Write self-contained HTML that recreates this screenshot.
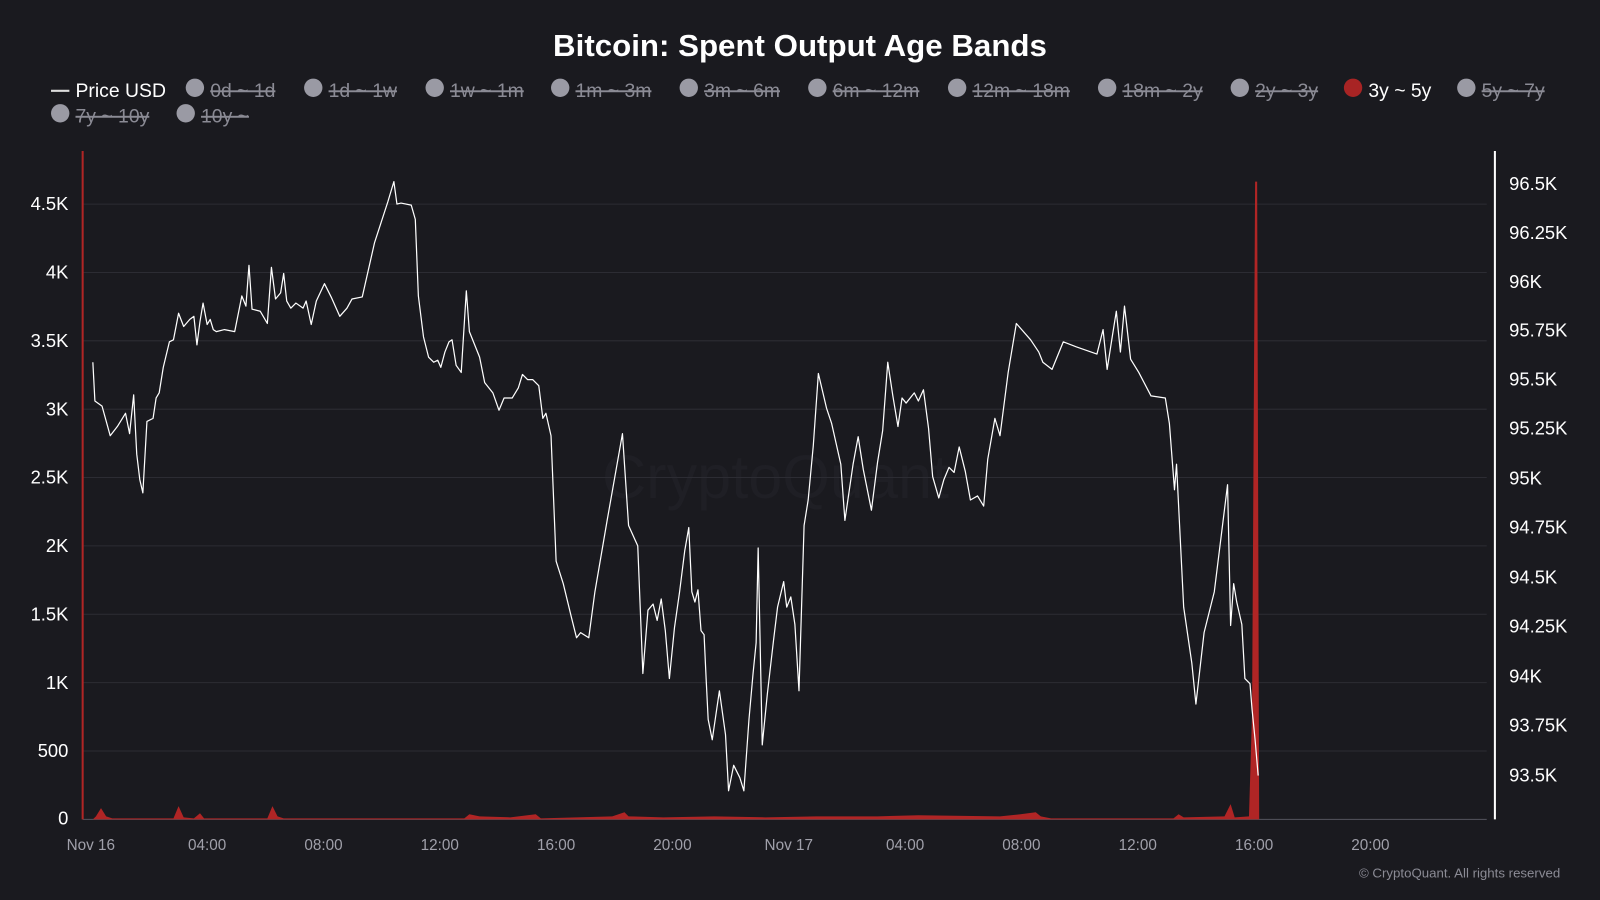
<!DOCTYPE html>
<html><head><meta charset="utf-8"><style>
html,body{margin:0;padding:0;background:#1a1a1f;width:1600px;height:900px;overflow:hidden}
svg{display:block}
text{font-family:"Liberation Sans",sans-serif}
</style></head><body>
<svg width="1600" height="900" viewBox="0 0 1568 882" preserveAspectRatio="none">
<rect width="1568" height="882" fill="#1a1a1f"/>
<text x="784" y="55" text-anchor="middle" fill="#fff" font-size="30" font-weight="bold" textLength="484" lengthAdjust="spacingAndGlyphs">Bitcoin: Spent Output Age Bands</text>
<g font-size="19" fill="#8b8b95">
<line x1="50" y1="89" x2="68" y2="89" stroke="#ddd" stroke-width="2"/>
<text x="74" y="95" fill="#fff">Price USD</text>
<g fill="#9a9aa4">
<circle cx="191" cy="86" r="9"/><circle cx="307" cy="86" r="9"/><circle cx="426" cy="86" r="9"/><circle cx="549" cy="86" r="9"/><circle cx="675" cy="86" r="9"/><circle cx="801" cy="86" r="9"/><circle cx="938" cy="86" r="9"/><circle cx="1085" cy="86" r="9"/><circle cx="1215" cy="86" r="9"/><circle cx="1437" cy="86" r="9"/><circle cx="59" cy="111" r="9"/><circle cx="182" cy="111" r="9"/>
</g>
<circle cx="1326" cy="86" r="9" fill="#a82424"/>
<g text-decoration="line-through">
<text x="206" y="95">0d ~ 1d</text><text x="322" y="95">1d ~ 1w</text><text x="441" y="95">1w ~ 1m</text><text x="564" y="95">1m ~ 3m</text><text x="690" y="95">3m ~ 6m</text><text x="816" y="95">6m ~ 12m</text><text x="953" y="95">12m ~ 18m</text><text x="1100" y="95">18m ~ 2y</text><text x="1230" y="95">2y ~ 3y</text><text x="1452" y="95">5y ~ 7y</text><text x="74" y="120">7y ~ 10y</text><text x="197" y="120">10y ~</text>
</g>
<text x="1341" y="95" fill="#fff">3y ~ 5y</text>
</g>
<text x="760" y="488" text-anchor="middle" fill="#1f1f25" font-size="60">CryptoQuant</text>
<g stroke="#2c2c33" stroke-width="1">
<line x1="81" y1="200" x2="1457" y2="200"/><line x1="81" y1="267" x2="1457" y2="267"/><line x1="81" y1="334" x2="1457" y2="334"/><line x1="81" y1="401" x2="1457" y2="401"/><line x1="81" y1="468" x2="1457" y2="468"/><line x1="81" y1="535" x2="1457" y2="535"/><line x1="81" y1="602" x2="1457" y2="602"/><line x1="81" y1="669" x2="1457" y2="669"/><line x1="81" y1="736" x2="1457" y2="736"/>
</g>
<line x1="81" y1="803" x2="1457" y2="803" stroke="#55555e"/>
<line x1="81" y1="148" x2="81" y2="803" stroke="#b02525" stroke-width="2"/>
<line x1="1465" y1="148" x2="1465" y2="803" stroke="#fff" stroke-width="2"/>
<g font-size="18" fill="#fff" text-anchor="end">
<text x="67" y="808">0</text><text x="67" y="742">500</text><text x="67" y="675">1K</text><text x="67" y="608">1.5K</text><text x="67" y="541">2K</text><text x="67" y="474">2.5K</text><text x="67" y="407">3K</text><text x="67" y="340">3.5K</text><text x="67" y="273">4K</text><text x="67" y="206">4.5K</text>
</g>
<g font-size="18" fill="#fff">
<text x="1479" y="186">96.5K</text><text x="1479" y="234">96.25K</text><text x="1479" y="282">96K</text><text x="1479" y="330">95.75K</text><text x="1479" y="378">95.5K</text><text x="1479" y="426">95.25K</text><text x="1479" y="475">95K</text><text x="1479" y="523">94.75K</text><text x="1479" y="572">94.5K</text><text x="1479" y="620">94.25K</text><text x="1479" y="669">94K</text><text x="1479" y="717">93.75K</text><text x="1479" y="766">93.5K</text>
</g>
<g font-size="15" fill="#a0a0aa" text-anchor="middle">
<text x="89" y="833">Nov 16</text><text x="203" y="833">04:00</text><text x="317" y="833">08:00</text><text x="431" y="833">12:00</text><text x="545" y="833">16:00</text><text x="659" y="833">20:00</text><text x="773" y="833">Nov 17</text><text x="887" y="833">04:00</text><text x="1001" y="833">08:00</text><text x="1115" y="833">12:00</text><text x="1229" y="833">16:00</text><text x="1343" y="833">20:00</text>
</g>
<text x="1529" y="860" text-anchor="end" font-size="13" fill="#8b8b95">© CryptoQuant. All rights reserved</text>
<polygon fill="#b02525" points="91,803 94,800 99,792 104,800 110,802 170,802 175,790 180,801 190,802 196,797 200,802 262,802 267,790 272,800 278,802 455,802 460,798 470,800 500,801 525,798 530,802 600,800 612,796 616,800 650,801 700,800 750,801 800,800 860,800 900,799 980,800 1000,798 1015,796 1020,800 1030,802 1150,802 1155,798 1160,801 1200,800 1206,788 1210,801 1224,800 1227,700 1230,178 1232,178 1234,803"/>
<polyline fill="none" stroke="#fff" stroke-width="1.2" stroke-linejoin="round" points="91,355 93,393 100,398 108,427 115,418 123,405 127,425 131,387 134,445 137,470 140,483 144,413 150,410 153,390 156,385 160,360 166,335 170,333 175,307 180,320 186,313 190,310 193,338 196,315 199,297 203,318 206,313 209,323 212,325 220,323 230,325 237,290 241,300 244,260 247,303 255,305 262,317 266,262 270,293 275,287 278,268 281,295 285,302 290,297 297,302 300,295 305,318 310,295 318,278 325,292 333,310 340,302 345,293 355,291 367,238 380,198 386,178 389,200 393,199 403,201 407,215 410,290 415,330 420,350 425,355 429,353 432,360 436,345 440,335 443,333 447,358 452,365 457,285 460,325 470,350 475,375 483,385 489,402 494,390 502,390 508,380 512,367 517,372 522,372 528,378 532,410 535,405 540,427 545,550 552,572 560,605 565,625 569,620 577,625 583,580 595,510 610,425 616,515 625,535 630,660 635,598 640,592 644,608 648,587 652,618 656,665 661,615 666,580 671,540 675,517 678,580 681,590 684,578 687,618 690,622 692,665 694,705 698,725 705,677 711,720 714,775 719,750 725,762 729,775 734,705 738,660 741,630 743,537 747,730 752,680 758,628 762,595 768,570 771,595 775,585 779,612 783,677 788,515 792,490 797,437 802,366 810,400 815,415 824,455 828,510 836,455 841,428 846,460 854,500 860,453 865,422 870,355 875,388 880,418 884,390 888,395 896,385 900,393 905,382 910,420 914,467 920,488 925,470 930,458 935,463 940,438 946,462 951,490 958,486 964,496 968,450 975,410 980,427 988,365 996,317 1010,333 1018,345 1022,355 1031,362 1042,335 1055,340 1075,347 1081,323 1085,362 1090,330 1094,305 1098,345 1102,300 1108,352 1116,365 1128,388 1142,390 1146,415 1151,480 1153,455 1157,535 1160,595 1168,650 1172,690 1180,620 1190,580 1203,475 1206,613 1209,572 1212,590 1217,612 1220,665 1225,670 1227,695 1230,725 1233,760"/>
</svg>
</body></html>
